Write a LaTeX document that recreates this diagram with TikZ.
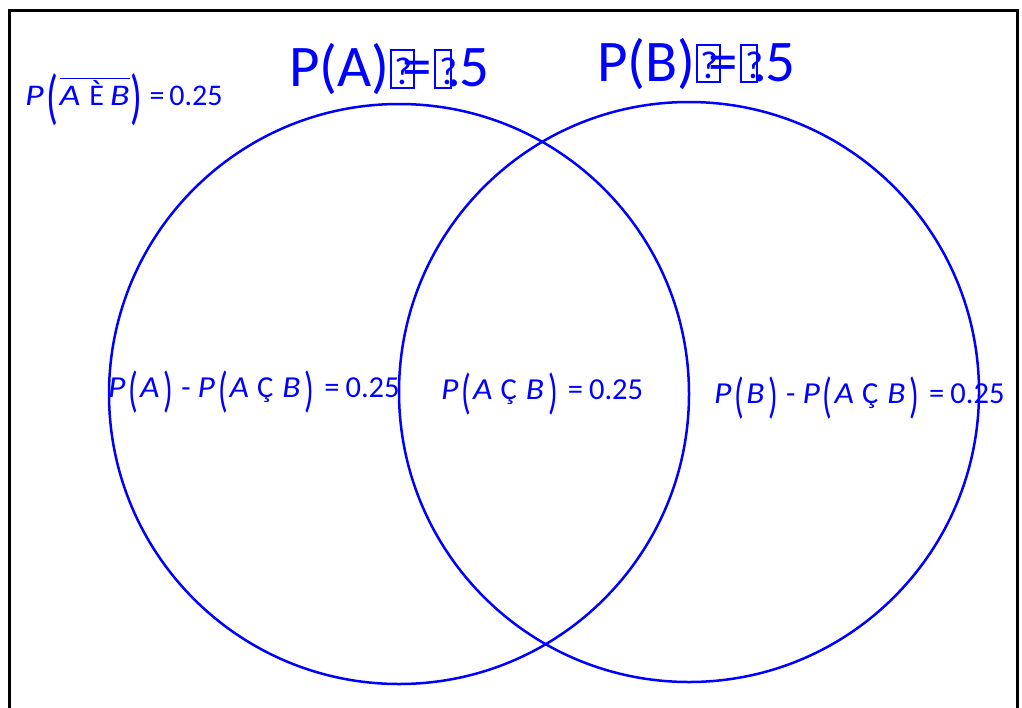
\documentclass[tikz,border=0pt]{standalone}
\usepackage{fontspec}
\setmainfont{Carlito}
\usepackage{graphicx}
\definecolor{vblue}{RGB}{0,0,255}
\newcommand\bpar[1]{\raisebox{-0.3em}{\scalebox{1.05}[1.6]{\upshape #1}}}
\newcommand\mi[1]{\scalebox{1.1}[1]{\textit{#1}}}
\newcommand\lp{\kern3pt\bpar(\kern2pt}
\newcommand\rp{\kern4pt\bpar)}
\newcommand\ndbox[1]{{\setlength\fboxsep{0pt}\setlength\fboxrule{2pt}\fbox{\makebox[#1][l]{\rule{0pt}{0.6em}\kern3pt\raisebox{2.5pt}{\scalebox{0.66}{?}}}}}}
\newcommand\tpar[1]{\raisebox{-0.4em}{\scalebox{1.3}[2.0]{#1}}}
\tikzset{
  venn/.style={circle,draw=vblue,line width=2.5pt,minimum size=580pt,inner sep=0pt},
  lbl/.style={text=vblue,inner sep=0pt,anchor=base west,font=\fontsize{30.5}{34}\selectfont},
  ttl/.style={text=vblue,inner sep=0pt,anchor=base west,font=\fontsize{59}{70}\selectfont},
}
\begin{document}
\begin{tikzpicture}[x=1pt,y=-1pt]
\clip (0,0) rectangle (1022,707);
\fill[white] (0,0) rectangle (1022,707);
\node[draw=black,line width=3pt,minimum width=1008pt,minimum height=760pt,anchor=north west,inner sep=0pt] (frame) at (8,9) {};
\node[venn] (circA) at (399,394) {};
\node[venn] (circB) at (689,392) {};
\node[ttl] (tA) at (289,86.5) {P(A)\ndbox{21pt}\kern-12.5pt=\kern3pt\ndbox{14pt}\kern-5.5pt.\kern-2pt5};
\node[ttl] (tB) at (597,81) {P(B)\ndbox{21pt}\kern-12.5pt=\kern3pt\ndbox{14pt}\kern-5.5pt.\kern-2pt5};
\node[lbl,font=\fontsize{30}{34}\selectfont] (union) at (25,105) {\scalebox{1.2}[1]{\textit{P}}\kern3pt\tpar(\kern1pt$\overline{\hbox{\scalebox{1.2}[1]{\textit{A}}\kern9pt È\kern6pt\scalebox{1.2}[1]{\textit{B}}}}$\kern1pt\tpar)\kern7pt=\kern5pt0.25};
\node[lbl] (onlyA) at (108,397) {\mi{P}\lp\mi{A}\rp\kern8pt-\kern7pt\mi{P}\lp\mi{A}\kern8pt Ç\kern9pt\mi{B}\rp\kern10pt=\kern6pt0.25};
\node[lbl] (both) at (441,399) {\mi{P}\lp\mi{A}\kern8pt Ç\kern9pt\mi{B}\rp\kern10pt=\kern6pt0.25};
\node[lbl] (onlyB) at (714,403) {\mi{P}\lp\mi{B}\rp\kern8pt-\kern7pt\mi{P}\lp\mi{A}\kern8pt Ç\kern9pt\mi{B}\rp\kern10pt=\kern6pt0.25};
\end{tikzpicture}
\end{document}
